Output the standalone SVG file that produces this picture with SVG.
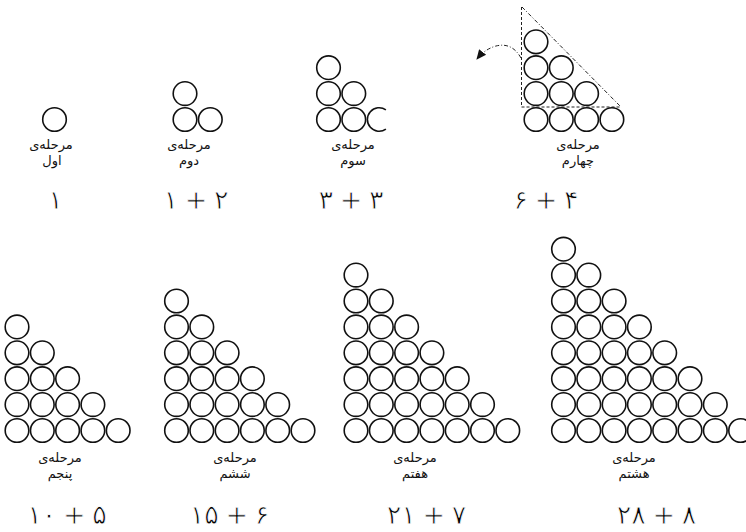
<svg xmlns="http://www.w3.org/2000/svg" xmlns:xlink="http://www.w3.org/1999/xlink" width="746" height="532" viewBox="0 0 746 532">
<style>
.c{fill:none;stroke:#111;stroke-width:1.6}
.lb{font-family:"DejaVu Sans",sans-serif;font-size:13px;fill:#111;text-anchor:middle}
.num{font-family:"DejaVu Sans",sans-serif;font-size:27px;fill:#000;stroke:#fff;stroke-width:0.8;text-anchor:middle;direction:ltr;word-spacing:-2px}
.dash{fill:none;stroke:#222;stroke-width:1;stroke-dasharray:3 2}
.dd{fill:none;stroke:#222;stroke-width:1;stroke-dasharray:4 2 1 2}
</style>
<defs>
<circle id="b" r="11.8" class="c"/>
<g id="r1"><use href="#b"/></g>
<g id="r2"><use href="#r1"/><use href="#b" x="25.3"/></g>
<g id="r3"><use href="#r2"/><use href="#b" x="50.6"/></g>
<g id="r4"><use href="#r3"/><use href="#b" x="75.9"/></g>
<g id="r5"><use href="#r4"/><use href="#b" x="101.2"/></g>
<g id="r6"><use href="#r5"/><use href="#b" x="126.5"/></g>
<g id="r7"><use href="#r6"/><use href="#b" x="151.8"/></g>
<g id="r8"><use href="#r7"/><use href="#b" x="177.1"/></g>
<marker id="ah" markerWidth="12" markerHeight="12" refX="9" refY="6" orient="auto" markerUnits="userSpaceOnUse">
<path d="M0,1.5 L10,6 L0,10.5 Z" fill="#111"/>
</marker>
</defs>
<rect width="746" height="532" fill="#fff"/>

<g id="stage1">
<use href="#r1" x="54.5" y="119.5"/>
<text class="lb" x="51" y="149">مرحله‌ی</text>
<text class="lb" x="52" y="165">اول</text>
<text class="num" x="55.5" y="209">۱</text>
</g>

<g id="stage2">
<use href="#r1" x="185" y="93.6"/>
<use href="#r2" x="185" y="119.5"/>
<text class="lb" x="189" y="149">مرحله‌ی</text>
<text class="lb" x="189" y="165">دوم</text>
<text class="num" x="196" y="209">۱ + ۲</text>
</g>

<g id="stage3">
<use href="#r1" x="328.5" y="67.7"/>
<use href="#r2" x="328.5" y="93.6"/>
<use href="#r2" x="328.5" y="119.5"/>
<path class="c" d="M385.9,109.8 A11.8,11.8 0 1 0 385.9,129.2"/>
<text class="lb" x="353" y="149">مرحله‌ی</text>
<text class="lb" x="353" y="165">سوم</text>
<text class="num" x="351" y="209">۳ + ۳</text>
</g>

<g id="stage4">
<path class="dash" d="M521.5,7 V107 H621"/>
<path class="dd" d="M522,7 L621,107"/>
<use href="#r1" x="536" y="41.8"/>
<use href="#r2" x="536" y="67.7"/>
<use href="#r3" x="536" y="93.6"/>
<use href="#r4" x="536" y="119.5"/>
<text class="lb" x="578" y="149">مرحله‌ی</text>
<text class="lb" x="578" y="165">چهارم</text>
<text class="num" x="546" y="209">۶ + ۴</text>
</g>

<g id="stage5">
<use href="#r1" x="17" y="326.9"/>
<use href="#r2" x="17" y="352.8"/>
<use href="#r3" x="17" y="378.7"/>
<use href="#r4" x="17" y="404.6"/>
<use href="#r5" x="17" y="430.5"/>
<text class="lb" x="60" y="462">مرحله‌ی</text>
<text class="lb" x="60" y="478">پنجم</text>
<text class="num" x="67" y="524">۱۰ + ۵</text>
</g>

<g id="stage6">
<use href="#r1" x="176.5" y="301"/>
<use href="#r2" x="176.5" y="326.9"/>
<use href="#r3" x="176.5" y="352.8"/>
<use href="#r4" x="176.5" y="378.7"/>
<use href="#r5" x="176.5" y="404.6"/>
<use href="#r6" x="176.5" y="430.5"/>
<text class="lb" x="235" y="462">مرحله‌ی</text>
<text class="lb" x="235" y="478">ششم</text>
<text class="num" x="229.5" y="524">۱۵ + ۶</text>
</g>

<g id="stage7">
<use href="#r1" x="356" y="275.1"/>
<use href="#r2" x="356" y="301"/>
<use href="#r3" x="356" y="326.9"/>
<use href="#r4" x="356" y="352.8"/>
<use href="#r5" x="356" y="378.7"/>
<use href="#r6" x="356" y="404.6"/>
<use href="#r7" x="356" y="430.5"/>
<text class="lb" x="415" y="462">مرحله‌ی</text>
<text class="lb" x="415" y="478">هفتم</text>
<text class="num" x="426.5" y="524">۲۱ + ۷</text>
</g>

<g id="stage8">
<use href="#r1" x="563.5" y="249.2"/>
<use href="#r2" x="563.5" y="275.1"/>
<use href="#r3" x="563.5" y="301"/>
<use href="#r4" x="563.5" y="326.9"/>
<use href="#r5" x="563.5" y="352.8"/>
<use href="#r6" x="563.5" y="378.7"/>
<use href="#r7" x="563.5" y="404.6"/>
<use href="#r8" x="563.5" y="430.5"/>
<text class="lb" x="634" y="462">مرحله‌ی</text>
<text class="lb" x="634" y="478">هشتم</text>
<text class="num" x="656.5" y="524">۲۸ + ۸</text>
</g>

<g id="connectors">
<path class="dd" d="M521,58 Q512,42 496,46 Q485,49 477,59" marker-end="url(#ah)"/>
</g>
</svg>
